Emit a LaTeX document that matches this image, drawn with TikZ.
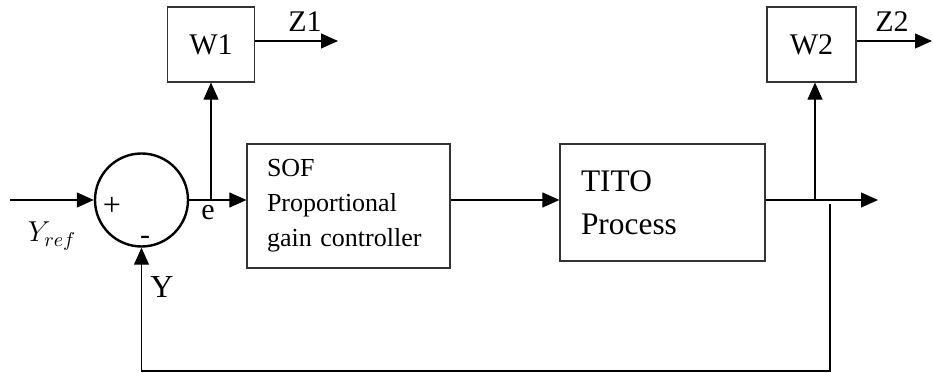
\documentclass[tikz,border=0pt]{standalone}
\usepackage{fontspec}
\setmainfont{Liberation Serif}
\usetikzlibrary{arrows.meta}

\begin{document}
\begin{tikzpicture}[x=0.5pt,y=-0.5pt,
    blk/.style={draw=black!80,line width=0.6pt,inner sep=0pt},
    sig/.style={line width=0.55pt,-{Triangle[length=8.5pt,width=7.5pt]}},
    lbl/.style={font=\fontsize{15}{18}\selectfont}]
    \useasboundingbox (0,0) rectangle (933,373);
    % blocks
    \node[circle,draw,line width=1.2pt,minimum size=46.5pt,inner sep=0pt] (sum) at (141.5,200) {};
    \node[blk,lbl,minimum width=43.5pt,minimum height=37.5pt] (w1) at (211,44.5) {W1};
    \node[blk,lbl,minimum width=44.5pt,minimum height=37.5pt] (w2) at (811.5,44.5) {W2};
    \node[blk,minimum width=101.5pt,minimum height=62pt,inner xsep=10pt,text width=81.5pt,align=left,
        font=\fontsize{13}{17.5}\selectfont] (sof) at (348.5,206) {SOF\\Proportional\\gain controller};
    \node[blk,minimum width=102.5pt,minimum height=58.5pt,inner xsep=10.5pt,text width=81.5pt,align=left,
        font=\fontsize{15.7}{21.5}\selectfont] (tito) at (662.5,202.5) {TITO\\Process};
    \coordinate (in) at (10,200);
    \coordinate (b1) at (211,200);
    \coordinate (b2) at (815,200);
    \coordinate (out) at (878,200);
    \coordinate (z1) at (338,41);
    \coordinate (z2) at (932,41);
    \coordinate (fb) at (830,204);
    \coordinate (bot) at (830,371);
    % signals
    \draw[sig] (in) -- (sum.west);
    \draw[sig] (sum.east) -- (sum.east -| sof.west);
    \draw[sig] (b1) -- (w1.south);
    \draw[sig] (sof.east |- sum.east) -- (tito.west |- sum.east);
    \draw[sig] (tito.east |- sum.east) -- (out);
    \draw[sig] (b2) -- (b2 |- w2.south);
    \draw[sig] (w1.east |- z1) -- (z1);
    \draw[sig] (w2.east |- z2) -- (z2);
    \draw[sig] (fb) -- (bot) -| (sum.south);
    % labels
    \node[lbl] (z1l) at (305,22) {Z1};
    \node[lbl] (z2l) at (892,22) {Z2};
    \node[lbl] (el) at (208,213) {e};
    \node[font=\fontsize{16}{18}\selectfont] (pl) at (112,206) {+};
    \node[lbl] (mi) at (145,240) {-};
    \node[font=\fontsize{16}{18}\selectfont] (yl) at (162,287) {Y};
    \node[font=\fontsize{14.5}{16}\selectfont] (yref) at (52,236) {$Y_{ref}$};
\end{tikzpicture}
\end{document}
